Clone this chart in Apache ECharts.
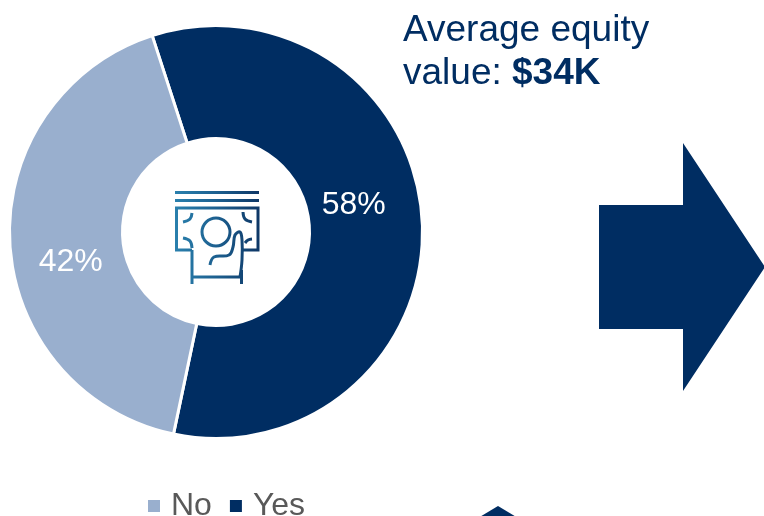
<!DOCTYPE html>
<html><head><meta charset="utf-8">
<style>html,body{margin:0;padding:0;background:#fff}#c{width:764px;height:516px}</style>
<script src="https://cdn.jsdelivr.net/npm/echarts@6/dist/echarts.min.js"></script></head>
<body><div id="c"></div>
<script>
const categories = ['Yes', 'No'];
const shares = [58.3, 41.7];
const legendOrder = ['No', 'Yes'];
const headingLine = 'Average equity';
const headingPrefix = 'value: ';
const headingValue = '$34K';
const NAVY = '#002D62', LIGHT = '#99AFCE';
const chart = echarts.init(document.getElementById('c'));
const iconGrad = {type: 'linear', x: 175, y: 0, x2: 259, y2: 0, global: true, colorStops: [
  {offset: 0, color: '#2A80AD'}, {offset: 0.5, color: '#1C5F8F'}, {offset: 1, color: '#0E3766'}
]};
const iconLines = [
  [[175,192.5],[259,192.5]],
  [[175,200.5],[259,200.5]],
  [[192,250],[176.5,250],[176.5,208],[258,208],[258,250],[243,250]],
  [[192,250],[192,284]],
  [[241.5,270],[241.5,284]],
  [[192,277],[241.5,277]]
];
const iconCurves = [
  [[192,213],[190,219],[183,222]],
  [[183,238],[190,241],[192,248]],
  [[243,212],[245,219],[252,222]],
  [[252,239],[248,240],[245,243]],
  [[210,265],[214,257],[229,255],[233,247],[235,235],[240,232],[242,240],[242,260],[240,277]]
];
chart.setOption({
  animation: false,
  textStyle: {fontFamily: 'Liberation Sans'},
  legend: {
    data: legendOrder, left: 146, top: 490, padding: 0, icon: 'rect', itemWidth: 14, itemHeight: 14, itemGap: 16,
    textStyle: {fontSize: 32, color: '#595959', fontFamily: 'Liberation Sans', padding: [0, 0, 0, 5]}
  },
  series: [{
    type: 'pie', center: [216, 232], radius: [93.5, 206.5], startAngle: 108, clockwise: true,
    data: categories.map((name, i) => ({
      name, value: shares[i],
      itemStyle: {color: i === 0 ? NAVY : LIGHT},
      label: {offset: i === 0 ? [-15, -19] : [7.5, 22]}
    })),
    itemStyle: {borderColor: '#fff', borderWidth: 3},
    label: {position: 'inside', formatter: p => Math.round(p.value) + '%', color: '#fff', fontSize: 32, fontFamily: 'Liberation Sans'},
    labelLine: {show: false}
  }],
  graphic: [
    {type: 'text', x: 403, y: 12, style: {text: headingLine, fontSize: 37, fill: NAVY, fontFamily: 'Liberation Sans'}},
    {type: 'text', x: 403, y: 55.5, style: {
      text: '{a|' + headingPrefix + '}{b|' + headingValue + '}',
      rich: {a: {fontSize: 37, fill: NAVY, fontFamily: 'Liberation Sans'},
             b: {fontSize: 37, fontWeight: 'bold', fill: NAVY, fontFamily: 'Liberation Sans'}}
    }},
    {type: 'polygon', shape: {points: [[599,205],[683,205],[683,143],[765,267],[683,391],[683,329],[599,329]]}, style: {fill: NAVY}},
    {type: 'polygon', shape: {points: [[498,506],[478,518],[518,518]]}, style: {fill: NAVY}},
    {type: 'circle', shape: {cx: 216, cy: 232, r: 14}, style: {stroke: iconGrad, lineWidth: 3, fill: null}},
    ...iconLines.map(p => ({type: 'polyline', shape: {points: p}, style: {stroke: iconGrad, lineWidth: 3, fill: null}})),
    ...iconCurves.map(p => ({type: 'polyline', shape: {points: p, smooth: 0.4}, style: {stroke: iconGrad, lineWidth: 3, fill: null}}))
  ]
});
</script></body></html>
